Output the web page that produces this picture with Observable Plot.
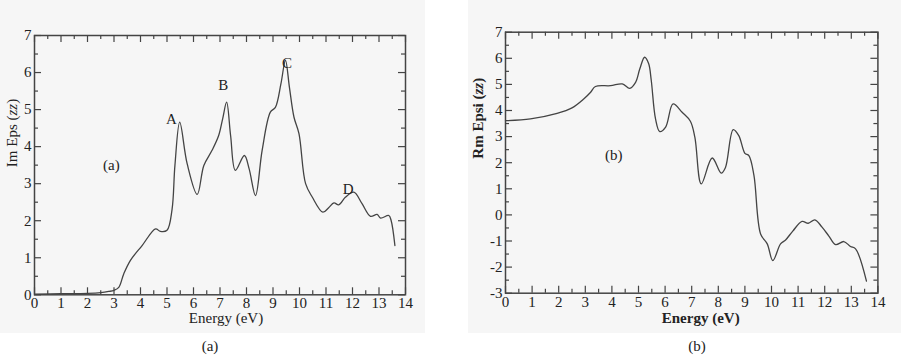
<!DOCTYPE html>
<html><head><meta charset="utf-8">
<script src="https://cdn.jsdelivr.net/npm/d3@7"></script>
<script src="https://cdn.jsdelivr.net/npm/@observablehq/plot@0.6"></script>
<style>
body{margin:0;background:#fff;width:901px;height:356px;position:relative;overflow:hidden;font-family:"Liberation Serif","Times New Roman",serif;}
.bg{position:absolute;background:#f6f6f6;}
.panel{position:absolute;top:0;}
.cap{position:absolute;font-size:15px;line-height:1;transform:translate(-50%,-50%);color:#222;}
</style></head><body>
<div class="bg" style="left:0;top:0;width:425px;height:333px"></div>
<div class="bg" style="left:468px;top:0;width:433px;height:333px"></div>
<div id="pa" class="panel" style="left:0"></div>
<div id="pb" class="panel" style="left:440px"></div>
<div class="cap" style="left:210px;top:346px">(a)</div>
<div class="cap" style="left:697px;top:346px">(b)</div>
<script>
// Panel (a): imaginary part
const energyA = [0,1,2,2.5,2.8,3.0,3.18,3.37,3.62,4.06,4.57,4.75,5.0,5.19,5.3,5.48,5.76,6.14,6.39,6.7,6.95,7.1,7.25,7.4,7.58,7.92,8.1,8.34,8.59,8.9,9.09,9.3,9.47,9.62,9.79,9.98,10.23,10.48,10.88,11.1,11.3,11.48,11.74,12.05,12.36,12.68,12.93,13.06,13.37,13.46,13.6];
const imEps   = [0.02,0.03,0.04,0.06,0.09,0.12,0.2,0.57,0.93,1.33,1.78,1.71,1.74,2.3,3.5,4.66,3.54,2.71,3.49,3.9,4.3,4.75,5.2,4.3,3.36,3.76,3.4,2.68,3.9,4.93,5.06,5.7,6.33,5.6,4.8,4.35,3.0,2.64,2.23,2.35,2.48,2.43,2.64,2.77,2.46,2.12,2.17,2.07,2.14,2.0,1.33];
// Panel (b): real part
const energyB = [0,0.94,1.94,2.5,2.94,3.2,3.38,3.95,4.39,4.67,4.89,5.05,5.23,5.38,5.48,5.64,5.8,6.02,6.3,6.64,6.95,7.12,7.36,7.77,8.11,8.27,8.56,8.77,9.0,9.15,9.34,9.59,9.84,10.05,10.34,10.53,10.8,11.15,11.38,11.63,11.9,12.15,12.41,12.72,12.97,13.16,13.57];
const rmEps   = [3.61,3.68,3.89,4.1,4.44,4.7,4.92,4.95,5.02,4.85,5.08,5.6,6.04,5.8,5.15,3.68,3.19,3.36,4.25,3.93,3.59,2.97,1.19,2.18,1.6,1.82,3.27,3.04,2.36,2.27,1.51,-0.73,-1.11,-1.75,-1.11,-0.96,-0.62,-0.25,-0.32,-0.19,-0.47,-0.8,-1.14,-1.02,-1.21,-1.3,-2.54];

const xTicks = [0,1,2,3,4,5,6,7,8,9,10,11,12,13,14];
const yTicksA = [0,1,2,3,4,5,6,7];
const yTicksB = [-3,-2,-1,0,1,2,3,4,5,6,7];

const peakLabels = ["A","B","C","D"];
const peakE = [5.17,7.12,9.53,11.84];
const peakV = [4.75,5.67,6.24,2.86];

const INK = "#444";
const FONT = "Liberation Serif, Times New Roman, serif";

function tickMarks(xt, yt, xd, yd, ppx, ppy) {
  const xm = xt.slice(0,-1).map(d => d + 0.5);
  const ym = yt.slice(0,-1).map(d => d + 0.5);
  const MJ = 7, MN = 4;
  const ty = l => l / ppy, tx = l => l / ppx;
  const s = {stroke: INK, strokeWidth: 1.2};
  return [
    Plot.ruleX(xt, {x: d => d, y1: yd[0], y2: yd[0] + ty(MJ), ...s}),
    Plot.ruleX(xm, {x: d => d, y1: yd[0], y2: yd[0] + ty(MN), ...s}),
    Plot.ruleX(xt, {x: d => d, y1: yd[1], y2: yd[1] - ty(MJ), ...s}),
    Plot.ruleX(xm, {x: d => d, y1: yd[1], y2: yd[1] - ty(MN), ...s}),
    Plot.ruleY(yt, {y: d => d, x1: xd[0], x2: xd[0] + tx(MJ), ...s}),
    Plot.ruleY(ym, {y: d => d, x1: xd[0], x2: xd[0] + tx(MN), ...s}),
    Plot.ruleY(yt, {y: d => d, x1: xd[1], x2: xd[1] - tx(MJ), ...s}),
    Plot.ruleY(ym, {y: d => d, x1: xd[1], x2: xd[1] - tx(MN), ...s})
  ];
}

// make "zz" italic inside the y label
function italicize(svg, label) {
  svg.querySelectorAll("text").forEach(t => {
    if (t.textContent === label) {
      const i = label.indexOf("zz");
      t.textContent = "";
      const parts = [[label.slice(0, i), false], ["zz", true], [label.slice(i + 2), false]];
      for (const [s, it] of parts) {
        const ts = document.createElementNS("http://www.w3.org/2000/svg", "tspan");
        ts.textContent = s;
        if (it) ts.setAttribute("font-style", "italic");
        t.appendChild(ts);
      }
    }
  });
}

// Panel A
const dataA = energyA.map((e,i) => ({e, v: imEps[i]}));
const plotA = Plot.plot({
  width: 440, height: 340,
  marginLeft: 34, marginRight: 35, marginTop: 35, marginBottom: 45.7,
  style: {fontFamily: FONT, background: "transparent", color: "#222"},
  x: {domain: [0,14]},
  y: {domain: [0,7]},
  marks: [
    ...tickMarks(xTicks, yTicksA, [0,14], [0,7], 26.5, 37.04),
    Plot.frame({stroke: INK, strokeWidth: 1.5}),
    Plot.axisX({ticks: xTicks, tickSize: 0, tickPadding: 3, fontSize: 15, label: null, tickFormat: d => String(d)}),
    Plot.axisY({ticks: yTicksA, tickSize: 0, tickPadding: 3, fontSize: 15, label: null, tickFormat: d => String(d)}),
    Plot.line(dataA, {x: "e", y: "v", stroke: INK, strokeWidth: 1.3, curve: "catmull-rom"}),
    Plot.text(peakLabels, {x: (d,i) => peakE[i], y: (d,i) => peakV[i], text: d => d, fontSize: 15, fill: "#222"}),
    Plot.text(["(a)"], {x: 2.9, y: 3.49, text: d => d, fontSize: 15, fill: "#222"}),
    Plot.text(["Energy (eV)"], {frameAnchor: "bottom", dy: 28, dx: 6, text: d => d, fontSize: 15, fill: "#222"}),
    Plot.text(["Im Eps (zz)"], {frameAnchor: "left", dx: -22, dy: 2, rotate: -90, text: d => d, fontSize: 15, fill: "#222"})
  ]
});
italicize(plotA, "Im Eps (zz)");
document.getElementById("pa").append(plotA);

// Panel B
const dataB = energyB.map((e,i) => ({e, v: rmEps[i]}));
const plotB = Plot.plot({
  width: 461, height: 340,
  marginLeft: 65, marginRight: 23.6, marginTop: 31.7, marginBottom: 47.3,
  style: {fontFamily: FONT, background: "transparent", color: "#222"},
  x: {domain: [0,14]},
  y: {domain: [-3,7]},
  marks: [
    ...tickMarks(xTicks, yTicksB, [0,14], [-3,7], 26.6, 26.1),
    Plot.frame({stroke: INK, strokeWidth: 1.5}),
    Plot.axisX({ticks: xTicks, tickSize: 0, tickPadding: 3, fontSize: 15, label: null, tickFormat: d => String(d)}),
    Plot.axisY({ticks: yTicksB, tickSize: 0, tickPadding: 3, fontSize: 15, label: null, tickFormat: d => String(d)}),
    Plot.line(dataB, {x: "e", y: "v", stroke: INK, strokeWidth: 1.3, curve: "catmull-rom"}),
    Plot.text(["(b)"], {x: 4.07, y: 2.27, text: d => d, fontSize: 15, fill: "#222"}),
    Plot.text(["Energy (eV)"], {frameAnchor: "bottom", dy: 30, dx: 9, text: d => d, fontSize: 15, fontWeight: "bold", fill: "#222"}),
    Plot.text(["Rm Epsi (zz)"], {frameAnchor: "left", dx: -27, dy: -4, rotate: -90, text: d => d, fontSize: 15, fontWeight: "bold", fill: "#222"})
  ]
});
italicize(plotB, "Rm Epsi (zz)");
document.getElementById("pb").append(plotB);
</script>
</body></html>
